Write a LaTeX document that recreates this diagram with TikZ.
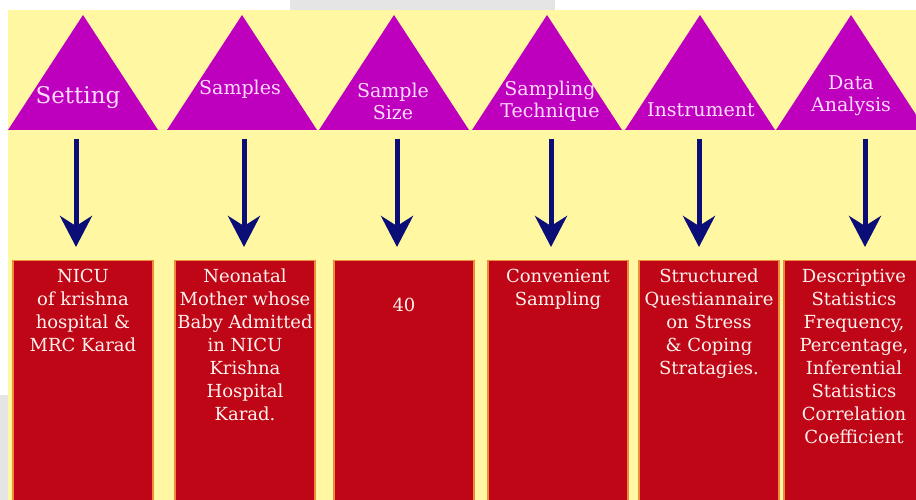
\documentclass[tikz,border=0pt]{standalone}
\usepackage{fontspec}
\setmainfont{DejaVu Serif}
\usetikzlibrary{arrows.meta,positioning}

\definecolor{paleyellow}{RGB}{255,247,162}
\definecolor{trimagenta}{RGB}{190,0,190}
\definecolor{boxred}{RGB}{190,6,22}
\definecolor{arrownavy}{RGB}{12,14,120}
\definecolor{trilabel}{RGB}{255,218,255}
\definecolor{boxtext}{RGB}{255,242,238}
\definecolor{boxedge}{RGB}{236,140,60}

\newcommand*{\boxtop}{260}
\newcommand*{\tribase}{130}

\begin{document}
\begin{tikzpicture}
[
	x=1pt, y=-1pt,
	tri/.style={fill=trimagenta},
	trilbl/.style={text=trilabel,align=center,inner sep=0pt},
	redbox/.style={fill=boxred,draw=boxedge,line width=1.2pt,minimum width=140pt,minimum height=250pt,anchor=north,inner sep=0pt},
	boxlbl/.style={text=boxtext,font=\fontsize{18}{23}\selectfont,align=center,inner sep=0pt},
	downarrow/.style={draw=arrownavy,line width=5pt,shorten >=13pt,-{Stealth[length=31pt,width=32pt,inset=10pt]}}
]

	\useasboundingbox (0,0) rectangle (916,500);
	\clip (0,0) rectangle (916,500);

	% background
	\fill[white] (0,0) rectangle (916,500);
	\fill[black!10] (290,0) rectangle (555,10);
	\fill[black!10] (0,395) rectangle (8,500);
	\fill[paleyellow] (8,10) rectangle (916,500);

	% triangles
	\foreach \cx/\lx/\ly/\fs/\txt [count=\i] in {83/78/98/23/Setting, 242/240/89/19/Samples, 394/393/101/19/{Sample\\Size}, 547/550/101/19/{Sampling\\Technique}, 700/701/110/19/Instrument, 851/851/96/19/{Data\\Analysis}} {
		\fill[tri] (\cx,15) -- (\cx+75,\tribase) -- (\cx-75,\tribase) -- cycle;
		\node[trilbl,font=\fontsize{\fs}{22}\selectfont] (tl\i) at (\lx,\ly) {\txt};
	}

	% boxes
	\foreach \bx [count=\i] in {83,245,404,558,709,854} {
		\node[redbox] (box\i) at (\bx,\boxtop) {};
	}

	\node[boxlbl,below=9pt of box1.north] (bl1) {NICU\\of krishna\\hospital \&\\MRC Karad};
	\node[boxlbl,below=9pt of box2.north] (bl2) {Neonatal\\Mother whose\\Baby Admitted\\in NICU\\Krishna\\Hospital\\Karad.};
	\node[boxlbl,below=38pt of box3.north] (bl3) {40};
	\node[boxlbl,below=9pt of box4.north] (bl4) {Convenient\\Sampling};
	\node[boxlbl,below=9pt of box5.north] (bl5) {Structured\\Questiannaire\\on Stress\\\& Coping\\Stratagies.};
	\node[boxlbl,below=9pt of box6.north] (bl6) {Descriptive\\Statistics\\Frequency,\\Percentage,\\Inferential\\Statistics\\Correlation\\Coefficient};

	% arrows
	\foreach \ax [count=\i] in {76,244,397,551,699,865} {
		\coordinate (s\i) at (\ax,139);
		\draw[downarrow] (s\i) -- (s\i |- box\i.north);
	}

\end{tikzpicture}
\end{document}
